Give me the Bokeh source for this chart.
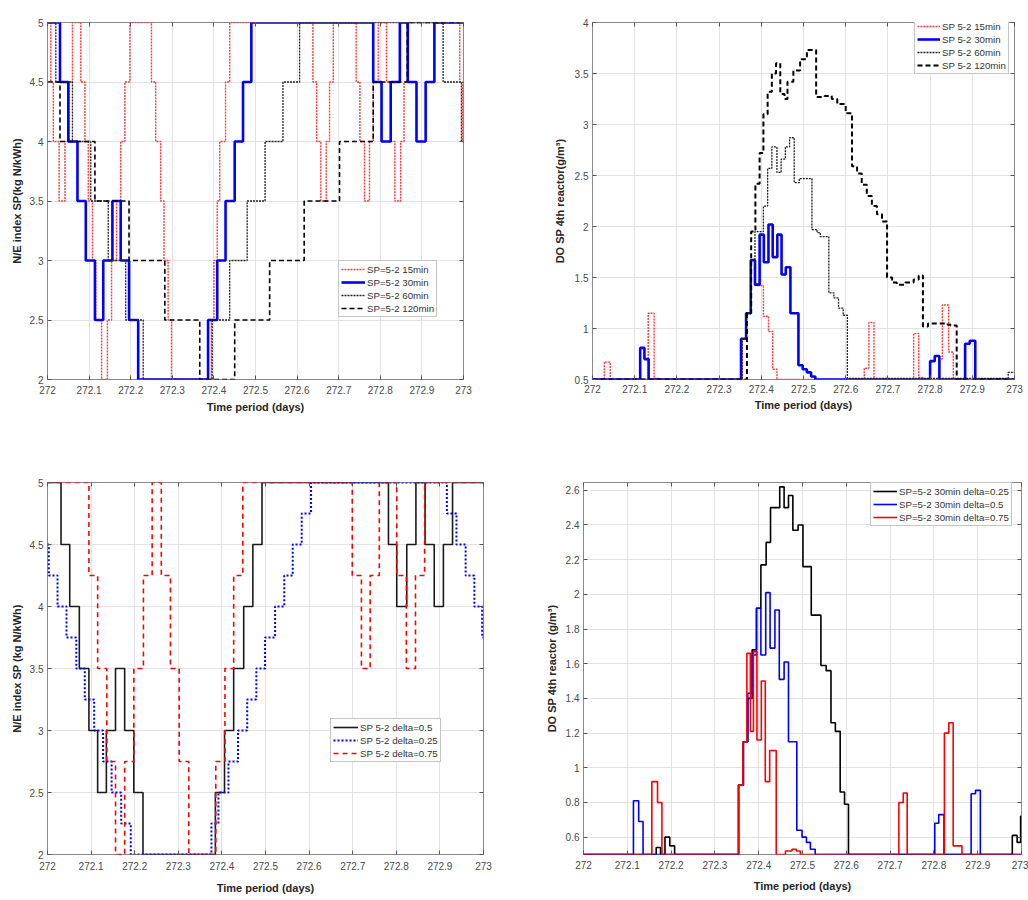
from bokeh.plotting import figure
from bokeh.layouts import column, row
from bokeh.models import LinearAxis, CustomJSTickFormatter, Range1d
from bokeh.embed import file_html
from bokeh.resources import INLINE

FONT = "Liberation Sans"

# ---- shared ticks ----
X_TICKS = [272, 272.1, 272.2, 272.3, 272.4, 272.5, 272.6, 272.7, 272.8, 272.9, 273]
NE_TICKS = [2, 2.5, 3, 3.5, 4, 4.5, 5]
DO_TICKS_TOP = [0.5, 1, 1.5, 2, 2.5, 3, 3.5, 4]
DO_TICKS_BOTTOM = [0.6, 0.8, 1.0, 1.2, 1.4, 1.6, 1.8, 2.0, 2.2, 2.4, 2.6]

# ---- N/E set point for several sampling intervals (change times in days, values) ----
ne15_t = [272.000, 272.008, 272.014, 272.028, 272.042, 272.052, 272.060, 272.080, 272.090, 272.098,
          272.108, 272.116, 272.130, 272.144, 272.154, 272.166, 272.176, 272.186, 272.198, 272.250,
          272.260, 272.272, 272.280, 272.290, 272.298, 272.394, 272.400, 272.408, 272.414, 272.428,
          272.438, 272.638, 272.647, 272.657, 272.670, 272.678, 272.687, 272.742, 272.751, 272.762,
          272.774, 272.783, 272.795, 272.815, 272.826, 272.835, 272.849, 272.857, 272.865, 272.991,
          272.998]
ne15_v = [5, 4.5, 4, 3.5, 4, 4.5, 5, 4.5, 4, 3.5,
          3, 2.5, 2, 2.5, 3, 3.5, 4, 4.5, 5, 4.5,
          4, 3.5, 3, 2.5, 2, 2.5, 3, 3.5, 4, 4.5,
          5, 4.5, 4, 3.5, 4, 4.5, 5, 4.5, 4, 3.5,
          4, 4.5, 5, 4.5, 4, 3.5, 4, 4.5, 5, 4.5,
          4]

ne30_t = [272.000, 272.030, 272.050, 272.072, 272.092, 272.114, 272.134, 272.156, 272.176, 272.196,
          272.218, 272.386, 272.408, 272.428, 272.450, 272.470, 272.490, 272.783, 272.803, 272.825,
          272.847, 272.866, 272.887, 272.909, 272.930]
ne30_v = [5, 4.5, 4, 3.5, 3, 2.5, 3, 3.5, 3, 2.5,
          2, 2.5, 3, 3.5, 4, 4.5, 5, 4.5, 4, 4.5,
          5, 4.5, 4, 4.5, 5]

ne60_t = [272.000, 272.020, 272.060, 272.104, 272.146, 272.188, 272.230, 272.396, 272.438, 272.480,
          272.523, 272.566, 272.606, 272.951, 272.995]
ne60_v = [5, 4.5, 4, 3.5, 3, 2.5, 2, 2.5, 3, 3.5,
          4, 4.5, 5, 4.5, 4]

ne120_t = [272.000, 272.030, 272.114, 272.196, 272.282, 272.366, 272.450, 272.534, 272.617, 272.702,
           272.783, 272.865]
ne120_v = [4.5, 4, 3.5, 3, 2.5, 2, 2.5, 3, 3.5, 4,
           4.5, 5]

# ---- DO set point in the 4th reactor for the same intervals ----
do15_t = [272.000, 272.028, 272.042, 272.132, 272.146, 272.156, 272.355, 272.365, 272.375, 272.386,
          272.405, 272.417, 272.427, 272.437, 272.644, 272.655, 272.667, 272.761, 272.773, 272.783,
          272.822, 272.829, 272.844, 272.855]
do15_v = [0.5, 0.67, 0.5, 1.15, 0.51, 0.5, 0.9, 1.15, 1.67, 1.42,
          1.12, 0.97, 0.60, 0.5, 0.61, 1.06, 0.5, 0.95, 0.52, 0.5,
          0.70, 1.23, 0.77, 0.5]

do30_t = [272.000, 272.113, 272.123, 272.133, 272.352, 272.364, 272.375, 272.385, 272.396, 272.406,
          272.417, 272.427, 272.438, 272.448, 272.458, 272.469, 272.488, 272.498, 272.508, 272.518,
          272.528, 272.800, 272.811, 272.822, 272.883, 272.894, 272.907]
do30_v = [0.5, 0.81, 0.70, 0.5, 0.9, 1.15, 1.67, 1.43, 1.92, 1.65,
          2.02, 1.70, 1.92, 1.53, 1.60, 1.15, 0.64, 0.60, 0.57, 0.53,
          0.5, 0.68, 0.73, 0.5, 0.85, 0.88, 0.5]

do60_t = [272.000, 272.354, 272.364, 272.375, 272.385, 272.405, 272.415, 272.425, 272.437, 272.447,
          272.457, 272.467, 272.478, 272.490, 272.520, 272.532, 272.540, 272.560, 272.572, 272.583,
          272.594, 272.604, 272.985]
do60_v = [0.5, 0.9, 1.15, 1.67, 1.95, 2.20, 2.57, 2.78, 2.53, 2.66,
          2.78, 2.87, 2.43, 2.47, 1.97, 1.94, 1.90, 1.35, 1.30, 1.20,
          1.13, 0.51, 0.57]

do120_t = [272.000, 272.366, 272.376, 272.386, 272.396, 272.405, 272.415, 272.425, 272.435, 272.445,
           272.455, 272.462, 272.476, 272.492, 272.508, 272.530, 272.550, 272.567, 272.580, 272.600,
           272.615, 272.627, 272.638, 272.650, 272.662, 272.674, 272.686, 272.698, 272.710, 272.721,
           272.741, 272.761, 272.773, 272.783, 272.795, 272.835, 272.848, 272.863]
do120_v = [0.5, 1.15, 1.95, 2.42, 2.72, 3.10, 3.32, 3.50, 3.60, 3.30,
           3.25, 3.42, 3.53, 3.64, 3.73, 3.27, 3.28, 3.25, 3.20, 3.11,
           2.59, 2.52, 2.41, 2.30, 2.20, 2.12, 2.05, 1.50, 1.45, 1.43,
           1.45, 1.48, 1.52, 1.02, 1.05, 1.04, 1.03, 0.5]

# ---- N/E set point, 30 min interval, three deltas ----
nd05_t = [272.000, 272.031, 272.051, 272.073, 272.095, 272.115, 272.135, 272.156, 272.177, 272.198,
          272.219, 272.385, 272.406, 272.427, 272.450, 272.471, 272.492, 272.782, 272.801, 272.824,
          272.845, 272.866, 272.887, 272.908, 272.929]
nd05_v = [5, 4.5, 4, 3.5, 3, 2.5, 3, 3.5, 3, 2.5,
          2, 2.5, 3, 3.5, 4, 4.5, 5, 4.5, 4, 4.5,
          5, 4.5, 4, 4.5, 5]

nd025_t = [272.000, 272.003, 272.023, 272.0435, 272.066, 272.0855, 272.107, 272.1275, 272.147, 272.169,
           272.191, 272.376, 272.392, 272.415, 272.437, 272.458, 272.479, 272.499, 272.522, 272.543,
           272.5625, 272.583, 272.6045, 272.916, 272.938, 272.959, 272.979, 272.997]
nd025_v = [4.5, 4.25, 4, 3.75, 3.5, 3.25, 3, 2.75, 2.5, 2.25,
           2, 2.25, 2.5, 2.75, 3, 3.25, 3.5, 3.75, 4, 4.25,
           4.5, 4.75, 5, 4.75, 4.5, 4.25, 4, 3.75]

nd075_t = [272.000, 272.095, 272.115, 272.136, 272.156, 272.177, 272.198, 272.220, 272.240, 272.261,
           272.282, 272.302, 272.324, 272.386, 272.407, 272.427, 272.448, 272.699, 272.720, 272.740,
           272.761, 272.801, 272.823, 272.844, 272.865]
nd075_v = [5, 4.25, 3.5, 2.75, 2, 2.75, 3.5, 4.25, 5, 4.25,
           3.5, 2.75, 2, 2.75, 3.5, 4.25, 5, 4.25, 3.5, 4.25,
           5, 4.25, 3.5, 4.25, 5]

# ---- DO set point, 30 min interval, three deltas ----
dd025_t = [272.000, 272.166, 272.176, 272.186, 272.197, 272.208, 272.354, 272.365, 272.375, 272.385,
           272.395, 272.405, 272.417, 272.427, 272.448, 272.458, 272.468, 272.478, 272.490, 272.501,
           272.520, 272.542, 272.554, 272.565, 272.575, 272.586, 272.596, 272.605, 272.979, 272.990,
           272.998]
dd025_v = [0.5, 0.54, 0.5, 0.60, 0.55, 0.5, 0.9, 1.15, 1.40, 1.68,
           1.92, 2.17, 2.30, 2.50, 2.62, 2.50, 2.57, 2.37, 2.40, 2.16,
           1.88, 1.59, 1.56, 1.26, 1.21, 0.86, 0.79, 0.5, 0.61, 0.57,
           0.72]

dd05_t = [272.000, 272.114, 272.126, 272.136, 272.354, 272.365, 272.375, 272.385, 272.395, 272.405,
          272.416, 272.426, 272.437, 272.447, 272.458, 272.468, 272.487, 272.499, 272.509, 272.518,
          272.529, 272.802, 272.811, 272.823, 272.885, 272.895, 272.906]
dd05_v = [0.5, 0.81, 0.69, 0.5, 0.9, 1.15, 1.43, 1.65, 1.92, 1.65,
          2.01, 1.69, 1.91, 1.51, 1.61, 1.15, 0.64, 0.60, 0.57, 0.53,
          0.5, 0.68, 0.73, 0.5, 0.85, 0.87, 0.5]

dd075_t = [272.000, 272.156, 272.169, 272.179, 272.354, 272.364, 272.373, 272.381, 272.388, 272.396,
           272.406, 272.415, 272.425, 272.440, 272.461, 272.476, 272.486, 272.495, 272.720, 272.730,
           272.739, 272.824, 272.834, 272.844, 272.864]
dd075_v = [0.5, 0.92, 0.80, 0.5, 0.9, 1.15, 1.66, 1.21, 1.67, 1.16,
           1.50, 0.92, 1.10, 0.5, 0.52, 0.53, 0.52, 0.5, 0.80, 0.855,
           0.5, 1.20, 1.26, 0.55, 0.5]

DAY_END = 273.0


def steps(t, v):
    """Hold each set point until the next change, and the last one to the end of the day."""
    return list(t) + [DAY_END], list(v) + [v[-1]]


def clean_fmt():
    return CustomJSTickFormatter(code="return (Math.round(tick * 1000) / 1000).toString();")


def panel(w, h, borders, y_lo, y_hi, yticks, ylabel, tick_stand, xlab_stand, ylab_stand):
    bl, br, bt, bb = borders
    p = figure(width=w, height=h, x_range=Range1d(272, 273), y_range=Range1d(y_lo, y_hi),
               output_backend="svg", toolbar_location=None,
               min_border_left=bl, min_border_right=br, min_border_top=bt, min_border_bottom=bb,
               background_fill_color="white", border_fill_color="white",
               outline_line_color="#8a8a8a", outline_line_width=1)
    # box ticks on the opposite sides, as in a closed axes box
    p.add_layout(LinearAxis(), "right")
    p.add_layout(LinearAxis(), "above")

    p.xaxis.ticker = X_TICKS
    p.yaxis.ticker = yticks
    for ax in p.axis:
        ax.axis_line_color = None
        ax.major_tick_in = 4
        ax.major_tick_out = 0
        ax.major_tick_line_color = "#555555"
        ax.minor_tick_line_color = None
        ax.major_label_text_font = FONT
        ax.major_label_text_font_size = "10px"
        ax.major_label_text_color = "#4a4a4a"
        ax.axis_label_text_font = FONT
        ax.axis_label_text_font_size = "11px"
        ax.axis_label_text_font_style = "bold"
        ax.axis_label_text_color = "#262626"

    for ax in (p.right[0], p.above[0]):
        ax.formatter = CustomJSTickFormatter(code="return '';")
        ax.major_label_standoff = 0
        ax.major_label_text_font_size = "1px"

    xa = p.below[0]
    ya = p.left[0]
    xa.formatter = clean_fmt()
    ya.formatter = clean_fmt()
    xa.major_label_standoff = tick_stand[0]
    ya.major_label_standoff = tick_stand[1]
    xa.axis_label = "Time period (days)"
    ya.axis_label = ylabel
    xa.axis_label_standoff = xlab_stand
    ya.axis_label_standoff = ylab_stand

    p.xgrid.grid_line_color = "#e3e3e3"
    p.ygrid.grid_line_color = "#e3e3e3"
    return p


def style_legend(p, loc, glyph_w):
    lg = p.legend[0]
    lg.location = loc
    lg.label_text_font = FONT
    lg.label_text_font_size = "9.7px"
    lg.label_text_color = "#333333"
    lg.glyph_width = glyph_w
    lg.glyph_height = 12
    lg.label_height = 12
    lg.label_standoff = 2
    lg.spacing = 1
    lg.padding = 2
    lg.margin = 0
    lg.border_line_color = "#8c8c8c"
    lg.border_line_width = 1
    lg.background_fill_color = "white"
    lg.background_fill_alpha = 1.0


RED_DOT = dict(line_color="#ff3b3b", line_width=1.4, line_dash="2 1")
BLACK_DOT = dict(line_color="#222222", line_width=1.3, line_dash="2 1")

# ---- top left: N/E index set point ----
p1 = panel(520, 440, (47, 57, 16, 61), 2, 5, NE_TICKS, "N/E index SP(kg N/kWh)",
           (6, 4), 4, 4)
x, y = steps(ne15_t, ne15_v)
p1.step(x, y, mode="after", legend_label="SP=5-2 15min", **RED_DOT)
x, y = steps(ne30_t, ne30_v)
p1.step(x, y, mode="after", line_color="#0000ff", line_width=2.6, legend_label="SP=5-2 30min")
x, y = steps(ne60_t, ne60_v)
p1.step(x, y, mode="after", legend_label="SP=5-2 60min", **BLACK_DOT)
x, y = steps(ne120_t, ne120_v)
p1.step(x, y, mode="after", line_color="#000000", line_width=1.6, line_dash="5 3",
        legend_label="SP=5-2 120min")
style_legend(p1, (291, 62), 24)

# ---- top right: DO set point ----
p2 = panel(508, 440, (72, 14, 22, 53), 0.5, 4, DO_TICKS_TOP, "DO SP 4th reactor(g/m³)",
           (5, 4), 3, 6)
x, y = steps(do15_t, do15_v)
p2.step(x, y, mode="after", legend_label="SP 5-2 15min", **RED_DOT)
x, y = steps(do30_t, do30_v)
p2.step(x, y, mode="after", line_color="#0000ff", line_width=2.6, legend_label="SP 5-2 30min")
x, y = steps(do60_t, do60_v)
p2.step(x, y, mode="after", legend_label="SP 5-2 60min", **BLACK_DOT)
x, y = steps(do120_t, do120_v)
p2.step(x, y, mode="after", line_color="#000000", line_width=2, line_dash="5 3",
        legend_label="SP 5-2 120min")
style_legend(p2, (322, 305), 23)

# ---- bottom left: N/E set point for three deltas ----
p3 = panel(520, 460, (47, 37, 38, 46), 2, 5, NE_TICKS, "N/E index SP (kg N/kWh)",
           (7, 4), 9, 4)
x, y = steps(nd05_t, nd05_v)
p3.step(x, y, mode="after", line_color="#1a1a1a", line_width=1.6, legend_label="SP 5-2 delta=0.5")
x, y = steps(nd025_t, nd025_v)
p3.step(x, y, mode="after", line_color="#0000ff", line_width=2, line_dash="2 2",
        legend_label="SP 5-2 delta=0.25")
x, y = steps(nd075_t, nd075_v)
p3.step(x, y, mode="after", line_color="#ff0000", line_width=1.6, line_dash="5 4",
        legend_label="SP 5-2 delta=0.75")
style_legend(p3, (283, 92), 25)

# ---- bottom right: DO set point for three deltas ----
p4 = panel(508, 460, (63, 7, 42, 40), 0.5, 2.645, DO_TICKS_BOTTOM, "DO SP 4th reactor (g/m³)",
           (6, 4), 8, 5)
x, y = steps(dd025_t, dd025_v)
p4.step(x, y, mode="after", line_color="#000000", line_width=1.6,
        legend_label="SP=5-2 30min delta=0.25")
x, y = steps(dd05_t, dd05_v)
p4.step(x, y, mode="after", line_color="#0000ff", line_width=1.6,
        legend_label="SP=5-2 30min delta=0.5")
x, y = steps(dd075_t, dd075_v)
p4.step(x, y, mode="after", line_color="#ff0000", line_width=1.6,
        legend_label="SP=5-2 30min delta=0.75")
style_legend(p4, (287, 328), 24)

layout = column(row(p1, p2), row(p3, p4))
open("out.html", "w").write(file_html(layout, INLINE))
